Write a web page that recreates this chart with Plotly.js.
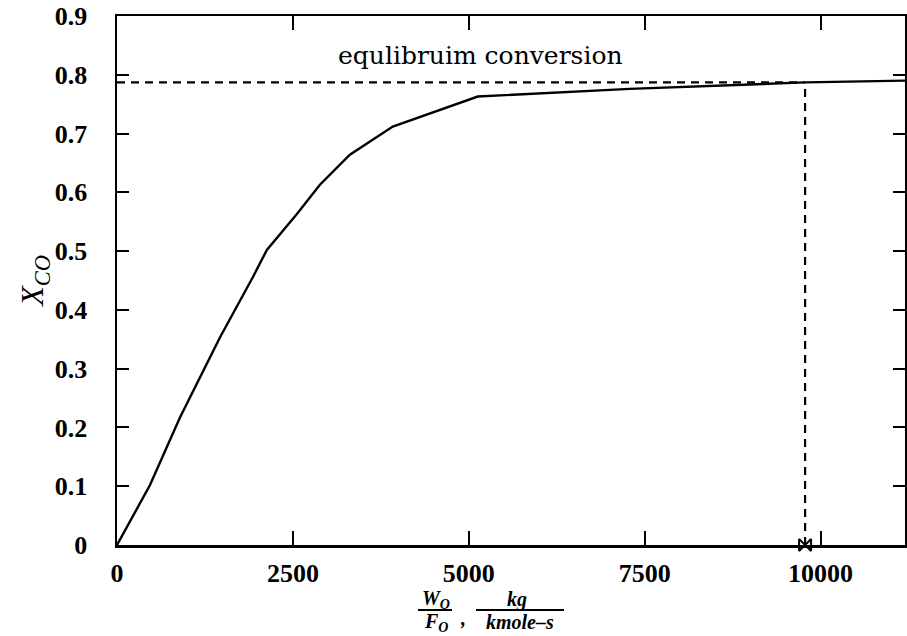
<!DOCTYPE html>
<html>
<head>
<meta charset="utf-8">
<script src="https://cdn.plot.ly/plotly-3.0.1.min.js"></script>
<style>html,body{margin:0;padding:0;background:#fff;}#chart{width:907px;height:636px;}</style>
</head>
<body>
<div id="chart"></div>
<script>
// Conversion curve X_CO vs W_O/F_O
const wOverF = [0, 469, 895, 1179, 1463, 1932, 2130, 2557, 2884, 3310, 3920, 5128, 7287, 9780, 11200];
const xCO    = [0, 0.102, 0.217, 0.285, 0.353, 0.456, 0.502, 0.563, 0.613, 0.664, 0.712, 0.763, 0.776, 0.787, 0.790];

// Equilibrium conversion and the weight where it is reached
const eqConversion = 0.787;
const eqWeight = 9780;
const eqLineX = [0, eqWeight];
const eqLineY = [eqConversion, eqConversion];
const dropX = [eqWeight, eqWeight];
const dropY = [0, eqConversion];

const xTicks = [0, 2500, 5000, 7500, 10000];
const yTicks = [0, 0.1, 0.2, 0.3, 0.4, 0.5, 0.6, 0.7, 0.8, 0.9];

const W = 907, H = 636;
const L = 117, R = 2, T = 16, B = 91;
const pw = W - L - R, ph = H - T - B;
const px = v => (v - L) / pw;           // pixel -> paper x
const py = v => (H - B - v) / ph;       // pixel -> paper y

const serifBold = {family: 'Liberation Serif', size: 26, color: '#000', weight: 'bold'};

const traces = [
  {x: wOverF, y: xCO, mode: 'lines', line: {color: '#000', width: 2.4}, hoverinfo: 'skip', showlegend: false},
  {x: eqLineX, y: eqLineY, mode: 'lines', line: {color: '#000', width: 2.4, dash: '8px,6px'}, showlegend: false},
  {x: dropX, y: dropY, mode: 'lines', line: {color: '#000', width: 2.2, dash: '8px,6px'}, showlegend: false},
  {x: [eqWeight], y: [0], mode: 'markers', marker: {symbol: 'bowtie-open', size: 12, color: '#000', line: {color: '#000', width: 2}}, cliponaxis: false, showlegend: false}
];

const fracFont = {family: 'Liberation Serif', size: 20, color: '#000', weight: 'bold', style: 'italic'};
const frac = (text, x, y) => ({x: px(x), y: py(y), xref: 'paper', yref: 'paper', text: text,
  showarrow: false, xanchor: 'center', yanchor: 'middle', font: fracFont});

const layout = {
  width: W, height: H,
  margin: {l: L, r: R, t: T, b: B},
  paper_bgcolor: '#fff', plot_bgcolor: '#fff',
  showlegend: false,
  xaxis: {
    range: [0, 11200], tickvals: xTicks, ticktext: xTicks.map(String),
    ticks: 'inside', ticklen: 14, tickwidth: 2, tickcolor: '#000',
    showline: true, linewidth: 2.5, linecolor: '#000', mirror: 'allticks',
    showgrid: false, zeroline: false, tickfont: serifBold, ticklabelstandoff: 3
  },
  yaxis: {
    range: [0, 0.9], tickvals: yTicks, ticktext: yTicks.map(v => String(v)),
    ticks: 'inside', ticklen: 12, tickwidth: 2, tickcolor: '#000',
    showline: true, linewidth: 2.5, linecolor: '#000', mirror: 'allticks',
    showgrid: false, zeroline: false, tickfont: serifBold, ticklabelstandoff: 22,
    title: {text: '<i>X<sub>CO</sub></i>', font: {family: 'Liberation Serif', size: 32, color: '#000'}, standoff: 2}
  },
  annotations: [
    {x: 5170, y: 0.832, xref: 'x', yref: 'y', text: 'equlibruim conversion', showarrow: false,
     xanchor: 'center', yanchor: 'middle', font: {family: 'DejaVu Serif', size: 25, color: '#000'}},
    frac('W<sub>O</sub>', 436, 599),
    frac('F<sub>O</sub>', 436, 622),
    frac(',', 463, 618),
    frac('kg', 517, 600),
    frac('kmole\u2013s', 520, 622)
  ],
  shapes: [
    {type: 'line', xref: 'paper', yref: 'paper', x0: px(418), x1: px(452), y0: py(610), y1: py(610), line: {color: '#000', width: 2}},
    {type: 'line', xref: 'paper', yref: 'paper', x0: px(476), x1: px(564), y0: py(610), y1: py(610), line: {color: '#000', width: 2}}
  ]
};

Plotly.newPlot('chart', traces, layout, {displayModeBar: false, staticPlot: true});
</script>
</body>
</html>
